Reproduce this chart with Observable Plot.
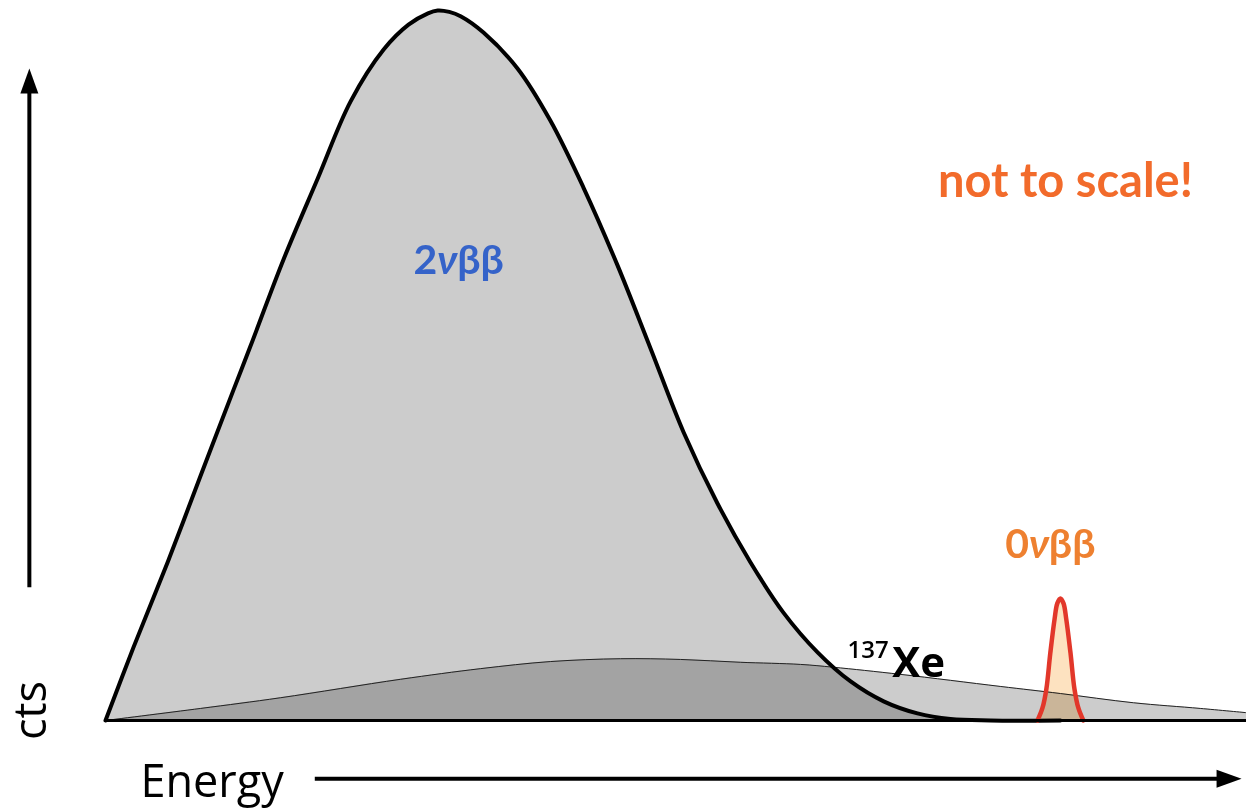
<!DOCTYPE html>
<html>
<head>
<meta charset="utf-8">
<script src="https://cdn.jsdelivr.net/npm/d3@7"></script>
<script src="https://cdn.jsdelivr.net/npm/@observablehq/plot@0.6"></script>
<style>
  html, body { margin: 0; padding: 0; background: #ffffff; }
  #chart svg { display: block; }
</style>
</head>
<body>
<div id="chart"></div>
<script>
// ---- Data (energy in keV, counts in arbitrary units; not to scale) ----
const energy2nu = [0, 72, 160, 245, 329, 373, 458, 546, 631, 716, 780, 830, 855, 885, 914, 973, 1061, 1145, 1230, 1318, 1403, 1488, 1575, 1660, 1745, 1833, 1918, 2003, 2090, 2175, 2278, 2458];
const counts2nu = [0, 10.3, 22.3, 34.5, 46.5, 52.7, 64.9, 76.3, 87.2, 94.5, 98.0, 99.6, 100, 99.8, 99.2, 96.9, 91.8, 84.5, 75.1, 64.1, 52.4, 40.6, 30.6, 22.3, 15.2, 9.6, 5.5, 2.7, 1.0, 0.2, 0, 0];

const energyXe = [0, 245, 450, 759, 965, 1145, 1326, 1480, 1634, 1789, 1874, 2046, 2303, 2458, 2646, 2818, 2937];
const countsXe = [0, 1.7, 3.2, 5.8, 7.3, 8.3, 8.7, 8.6, 8.2, 7.9, 7.5, 6.5, 4.8, 3.8, 2.5, 1.7, 1.1];

const energy0nu = [2399, 2412, 2422, 2432, 2443, 2450, 2458, 2466, 2473, 2484, 2494, 2504, 2517];
const counts0nu = [0, 1.8, 4.5, 9.5, 14.3, 16.5, 17.2, 16.5, 14.3, 9.5, 4.5, 1.8, 0];

const labels = ["2νββ", "0νββ", "not to scale!", "Xe", "137"];
const xTitle = "Energy";
const yTitle = "cts";

// ---- Tables ----
const spec2nu = energy2nu.map((e, i) => ({E: e, c: counts2nu[i]}));
const specXe = energyXe.map((e, i) => ({E: e, c: countsXe[i]}));
const spec0nu = energy0nu.map((e, i) => ({E: e, c: counts0nu[i]}));

// ---- Annotation anchors (data units) ----
const axisArrowX = -196;   // energy position of the vertical "cts" arrow
const axisArrowY = -8.2;   // count position of the horizontal "Energy" arrow

const headShape = {
  draw(context) {
    context.moveTo(0, -25);
    context.lineTo(9, 0);
    context.lineTo(-9, 0);
    context.closePath();
  }
};

const chart = Plot.plot({
  width: 1246,
  height: 809,
  marginLeft: 105,
  marginRight: 0,
  marginTop: 10,
  marginBottom: 89,
  x: {domain: [0, 2937], axis: null},
  y: {domain: [0, 100], axis: null},
  style: {background: "#ffffff", overflow: "visible"},
  marks: [
    // 2νββ spectrum
    Plot.areaY(spec2nu, {x: "E", y: "c", fill: "#cccccc", curve: "catmull-rom"}),
    // 137Xe background
    Plot.areaY(specXe, {x: "E", y: "c", fill: "#cccccc", curve: "catmull-rom", mixBlendMode: "multiply"}),
    Plot.line(specXe, {x: "E", y: "c", stroke: "#222222", strokeWidth: 1, curve: "catmull-rom"}),
    Plot.line(spec2nu, {x: "E", y: "c", stroke: "#000000", strokeWidth: 4, curve: "catmull-rom", strokeLinejoin: "round"}),
    // 0νββ peak
    Plot.areaY(spec0nu, {x: "E", y: "c", fill: "#fde2c0", curve: "catmull-rom", mixBlendMode: "multiply"}),
    Plot.line(spec0nu, {x: "E", y: "c", stroke: "#e2372a", strokeWidth: 4.5, curve: "catmull-rom"}),
    // baseline
    Plot.ruleY([0], {stroke: "#000000", strokeWidth: 3}),
    // axis arrows
    Plot.ruleX([axisArrowX], {y1: 18.7, y2: 88.5, stroke: "#000000", strokeWidth: 4}),
    Plot.dot([axisArrowX], {x: d => d, y: 88.3, symbol: headShape, fill: "#000000", stroke: null}),
    Plot.ruleY([axisArrowY], {x1: 540, x2: 2865, stroke: "#000000", strokeWidth: 4}),
    Plot.dot([axisArrowY], {x: 2860, y: d => d, symbol: headShape, rotate: 90, fill: "#000000", stroke: null}),
    // axis titles
    Plot.text([xTitle], {x: 90, y: -8.8, text: d => d, textAnchor: "start", fontSize: 45,
      fontFamily: "Open Sans", fill: "#000000"}),
    Plot.text([yTitle], {x: axisArrowX + 6, y: 1.4, text: d => d, rotate: -90, textAnchor: "middle", fontSize: 45,
      fontFamily: "Open Sans", fill: "#000000"}),
    // labels
    Plot.text([labels[0]], {x: 909, y: 64.8, text: d => d, fontSize: 41, fontWeight: "bold",
      fontFamily: "Lato", fill: "#3563c9"}),
    Plot.text([labels[1]], {x: 2432, y: 24.8, text: d => d, fontSize: 41, fontWeight: "bold",
      fontFamily: "Lato", fill: "#ee8030"}),
    Plot.text([labels[2]], {x: 2471, y: 75.9, text: d => d, fontSize: 47, fontWeight: "bold",
      fontFamily: "Lato", fill: "#f26b2b"}),
    Plot.text([labels[3]], {x: 2025, y: 8.0, text: d => d, textAnchor: "start", fontSize: 42, fontWeight: 700,
      fontFamily: "Open Sans", fill: "#000000"}),
    Plot.text([labels[4]], {x: 1910, y: 9.9, text: d => d, textAnchor: "start", fontSize: 24, fontWeight: 600,
      fontFamily: "Open Sans", fill: "#000000"})
  ]
});

// italic ν (math style) inside the ββ labels
d3.select(chart).selectAll("text").each(function() {
  const t = this.textContent;
  if (t.includes("ν")) {
    const parts = t.split("ν");
    const sel = d3.select(this);
    sel.text(null);
    sel.append("tspan").text(parts[0]);
    sel.append("tspan").attr("font-style", "italic").text("ν");
    sel.append("tspan").text(parts[1]);
  }
});

document.getElementById("chart").appendChild(chart);
</script>
</body>
</html>
